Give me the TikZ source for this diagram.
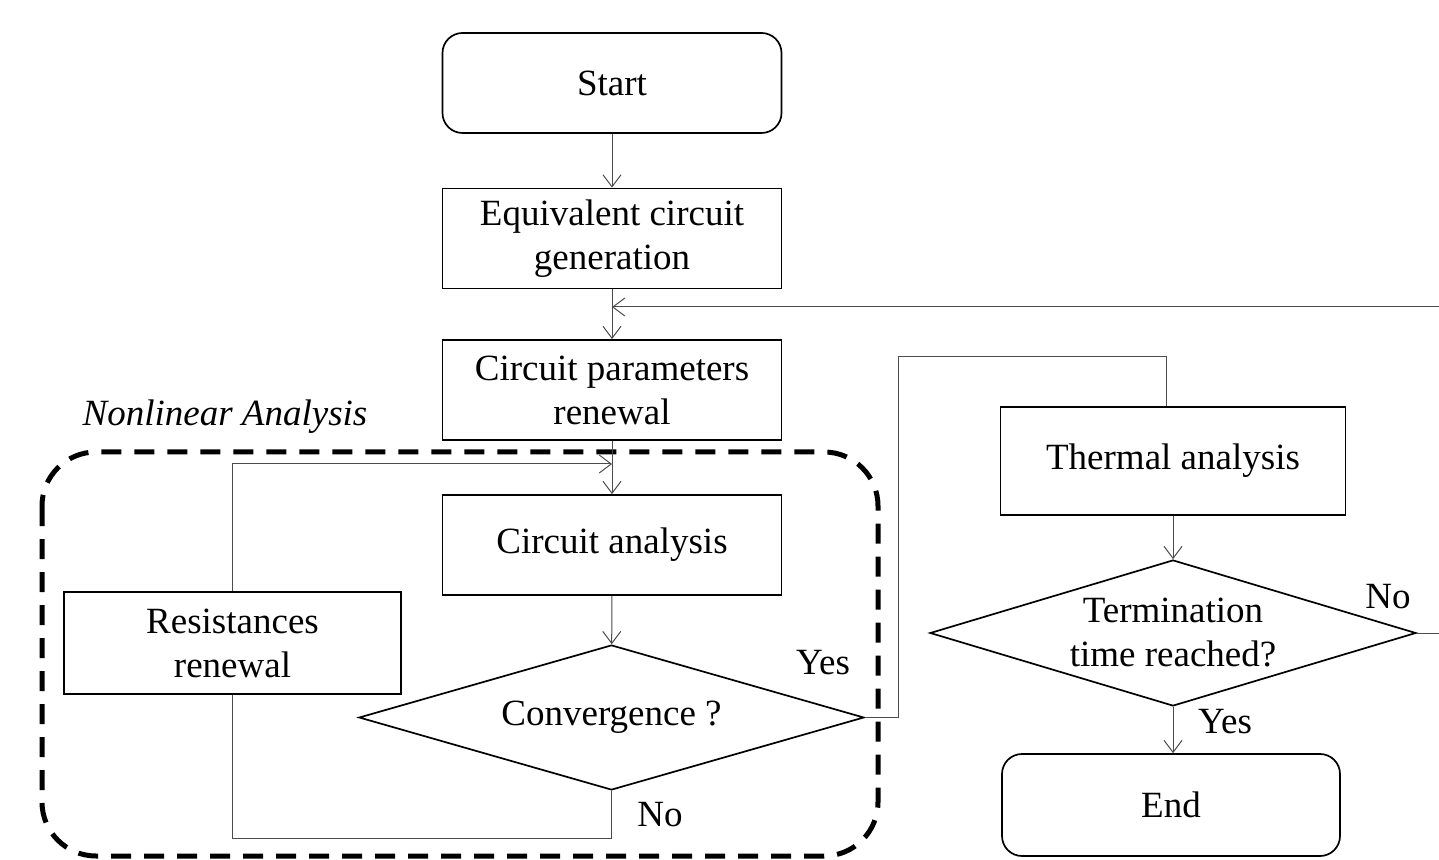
\documentclass[tikz,border=0pt]{standalone}
\usepackage{fontspec}
\setmainfont{Liberation Serif}
\usepackage{tikz}
\usetikzlibrary{calc,positioning,arrows.meta,shapes.geometric}

\tikzset{
	box/.style={draw,line width=0.85pt,minimum width=169.5pt,minimum height=50pt,align=center,inner sep=2pt},
	term/.style={box,rounded corners=10pt},
	decision/.style={draw,diamond,line width=0.85pt,inner sep=0pt},
	line/.style={draw=black!70,line width=0.5pt},
	arr/.style={line,-{Straight Barb[length=6pt,width=9pt]}},
	lbl/.style={inner sep=0pt}
}

\begin{document}
\begin{tikzpicture}[x=0.5pt,y=-0.5pt,font=\fontsize{18.5}{22}\selectfont]
		\useasboundingbox (0,0) rectangle (1439,860);

		% dashed region
		\draw[line width=2.5pt,dash pattern=on 10pt off 6.5pt,rounded corners=27pt] (42,452) rectangle (878,856);
		\node[lbl,font=\fontsize{18.5}{22}\selectfont\itshape] (nl) at (225,417) {Nonlinear Analysis};

		% main column
		\node[term] (start) at (612,83) {Start};
		\node[box] (equiv) at (612,238.5) {Equivalent circuit\\generation};
		\node[box] (params) at (612,390) {Circuit parameters\\renewal};
		\node[box] (circ) at (612,545) {Circuit analysis};
		\node[box,minimum width=168.5pt,minimum height=51pt] (resist) at (232.5,643) {Resistances\\renewal};
		\node[decision,minimum width=252.5pt,minimum height=72.5pt,
			label={[lbl]center:Convergence ?}] (conv) at (611.5,717.5) {};

		% right column
		\node[box,minimum width=172.5pt,minimum height=54pt] (thermal) at (1173,461) {Thermal analysis};
		\node[decision,minimum width=243pt,minimum height=73pt,
			label={[lbl,align=center]center:Termination\\time reached?}] (tdec) at (1173,633) {};
		\node[term,minimum width=169pt,minimum height=51pt] (end) at (1171,805) {End};

		% labels
		\node[lbl] (yes1) at (823,663) {Yes};
		\node[lbl] (no1) at (660,815) {No};
		\node[lbl] (no2) at (1388,597) {No};
		\node[lbl] (yes2) at (1225,722) {Yes};

		\coordinate (fb) at (1460,307);
		\coordinate (loop) at (612,464);
		\coordinate (up) at (1166,357);

		\draw[arr] (start) -- (equiv);
		\draw[arr] (equiv) -- (params);
		\draw[arr] (params) -- (circ);
		\draw[arr] (circ) -- (conv);
		\draw[arr] (fb) -- (equiv.south |- fb);
		\draw[arr] (resist.north) |- (loop);
		\draw[line] (conv.south) -- (conv.south |- 0,838) -| (resist.south);
		\draw[line] (conv.east) -- (898,717.5) |- (up) -- (up |- thermal.north);
		\draw[arr] (thermal) -- (tdec);
		\draw[arr] (tdec.south) -- (tdec.south |- end.north);
		\draw[line] (tdec.east) -- (1460,633) -- (fb);
	\end{tikzpicture}
\end{document}
